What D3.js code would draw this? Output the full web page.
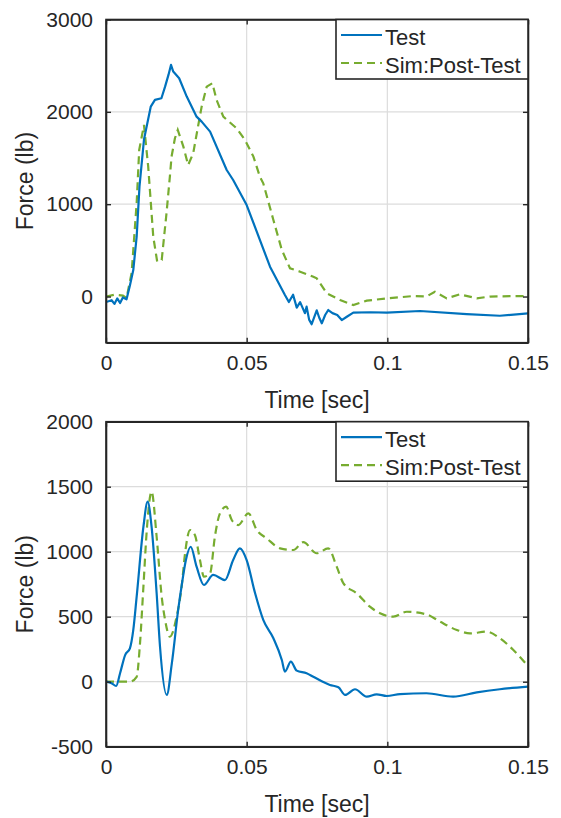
<!DOCTYPE html>
<html>
<head>
<meta charset="utf-8">
<script src="https://cdn.jsdelivr.net/npm/d3@7"></script>
<style>
  html, body { margin: 0; padding: 0; background: #fff; }
  svg { display: block; }
  text { font-family: "Liberation Sans", Arial, sans-serif; fill: #262626; }
</style>
</head>
<body>
<svg id="chart" width="561" height="818"></svg>
<script>
// ---------- Data ----------
const xTicks = [0, 0.05, 0.1, 0.15];
const xTickLabels = ["0", "0.05", "0.1", "0.15"];
const topYTicks = [0, 1000, 2000, 3000];
const topYTickLabels = ["0", "1000", "2000", "3000"];
const bottomYTicks = [-500, 0, 500, 1000, 1500, 2000];
const bottomYTickLabels = ["-500", "0", "500", "1000", "1500", "2000"];
const seriesNames = ["Test", "Sim:Post-Test"];

// Top panel — Test
const topTestT = [0, 0.002, 0.003, 0.004, 0.005, 0.006, 0.0073, 0.0085, 0.0097, 0.0109, 0.0119, 0.0135, 0.0159, 0.0174, 0.0197, 0.021, 0.0222, 0.0231, 0.0239, 0.026, 0.0287, 0.0322, 0.034, 0.037, 0.0429, 0.0452, 0.05, 0.0583, 0.0636, 0.065, 0.0665, 0.0678, 0.069, 0.0707, 0.0713, 0.0722, 0.0731, 0.0749, 0.0758, 0.0767, 0.0779, 0.079, 0.0805, 0.0822, 0.0838, 0.0856, 0.0879, 0.094, 0.0998, 0.1116, 0.1282, 0.14, 0.15];
const topTestF = [-60, -40, -80, -20, -70, -10, -30, 120, 287, 648, 1190, 1700, 2056, 2129, 2147, 2273, 2400, 2508, 2436, 2364, 2165, 1948, 1894, 1786, 1370, 1262, 991, 323, 16, -60, 20, -120, -60, -180, -110, -250, -300, -150, -230, -290, -200, -146, -180, -200, -255, -219, -175, -170, -175, -157, -190, -208, -182];

// Top panel — Sim:Post-Test
const topSimT = [0, 0.003, 0.006, 0.0073, 0.0091, 0.0097, 0.0109, 0.0118, 0.0135, 0.015, 0.0156, 0.0168, 0.0182, 0.0198, 0.0215, 0.0227, 0.0233, 0.0245, 0.0255, 0.0275, 0.0292, 0.031, 0.0327, 0.034, 0.0358, 0.0378, 0.0393, 0.0417, 0.0464, 0.0494, 0.0524, 0.0547, 0.0559, 0.0595, 0.0625, 0.0654, 0.069, 0.0737, 0.0749, 0.0785, 0.0832, 0.0879, 0.0927, 0.0998, 0.1092, 0.1139, 0.1169, 0.1211, 0.1258, 0.1318, 0.1365, 0.1448, 0.15];
const topSimF = [0, 20, 10, -16, 254, 504, 1013, 1587, 1858, 1406, 1154, 648, 377, 395, 901, 1298, 1515, 1714, 1804, 1623, 1425, 1551, 1840, 2056, 2273, 2310, 2129, 1948, 1822, 1696, 1515, 1298, 1226, 829, 504, 306, 269, 215, 197, 35, -38, -92, -45, -20, 5, 0, 52, -20, 24, -20, 0, 5, 5];

// Bottom panel — Test
const botTestT = [0, 0.002, 0.0036, 0.005, 0.0068, 0.0085, 0.0097, 0.0109, 0.0133, 0.0148, 0.0162, 0.018, 0.0192, 0.0216, 0.0234, 0.0257, 0.0269, 0.0284, 0.0301, 0.0322, 0.0348, 0.0381, 0.0423, 0.0452, 0.0476, 0.05, 0.053, 0.0559, 0.0595, 0.0625, 0.0636, 0.0657, 0.0678, 0.0713, 0.0737, 0.0796, 0.0826, 0.085, 0.0885, 0.0927, 0.0962, 0.0998, 0.1045, 0.1139, 0.1234, 0.1318, 0.14, 0.15];
const botTestF = [0, -12, -33, 65, 205, 257, 398, 654, 1192, 1385, 1192, 680, 269, -102, 141, 560, 740, 936, 1038, 885, 744, 821, 782, 936, 1026, 936, 680, 475, 334, 167, 77, 154, 85, 65, 38, -25, -43, -102, -58, -115, -97, -110, -95, -89, -115, -82, -58, -38];

// Bottom panel — Sim:Post-Test
const botSimT = [0, 0.0085, 0.0109, 0.012, 0.0133, 0.0145, 0.0162, 0.018, 0.0198, 0.021, 0.0227, 0.0251, 0.0269, 0.0281, 0.0299, 0.0316, 0.0334, 0.0348, 0.037, 0.0387, 0.0405, 0.0427, 0.0447, 0.047, 0.0506, 0.0536, 0.0571, 0.0619, 0.0666, 0.0701, 0.0749, 0.079, 0.082, 0.0844, 0.0891, 0.0938, 0.0974, 0.1021, 0.1069, 0.1139, 0.1187, 0.1247, 0.1294, 0.1353, 0.14, 0.1448, 0.15];
const botSimF = [0, 0, 38, 269, 731, 1167, 1462, 1115, 654, 475, 346, 500, 733, 988, 1167, 1128, 936, 808, 834, 1115, 1295, 1346, 1244, 1205, 1295, 1167, 1103, 1026, 1013, 1073, 988, 1026, 885, 757, 680, 577, 526, 500, 538, 518, 462, 398, 372, 385, 334, 244, 120];

// ---------- Styles ----------
const AX = "#262626", GRID = "#dcdcdc";
const BLUE = "#0072BD", GREEN = "#77AC30";
const TICK_FS = 21, LABEL_FS = 23, LEG_FS = 22;

const svg = d3.select("#chart");

function panel(cfg) {
  const { left, right, top, bottom, yDomain, yTicks, yLabels, test, sim, curve, legend, id } = cfg;
  const x = d3.scaleLinear().domain([0, 0.15]).range([left, right]);
  const y = d3.scaleLinear().domain(yDomain).range([bottom, top]);
  const g = svg.append("g");

  g.append("clipPath").attr("id", id).append("rect")
    .attr("x", left).attr("y", top).attr("width", right - left).attr("height", bottom - top);

  // grid
  g.selectAll(null).data(xTicks.slice(1, -1)).enter().append("line")
    .attr("x1", d => x(d)).attr("x2", d => x(d)).attr("y1", top).attr("y2", bottom)
    .attr("stroke", GRID).attr("stroke-width", 1.2);
  g.selectAll(null).data(yTicks.slice(1, -1)).enter().append("line")
    .attr("y1", d => y(d)).attr("y2", d => y(d)).attr("x1", left).attr("x2", right)
    .attr("stroke", GRID).attr("stroke-width", 1.2);

  // lines
  const line = d3.line().x(d => x(d[0])).y(d => y(d[1])).curve(curve);
  const plot = g.append("g").attr("clip-path", `url(#${id})`);
  plot.append("path").datum(d3.zip(sim[0], sim[1])).attr("d", line)
    .attr("fill", "none").attr("stroke", GREEN).attr("stroke-width", 2.2)
    .attr("stroke-dasharray", "8,5");
  plot.append("path").datum(d3.zip(test[0], test[1])).attr("d", line)
    .attr("fill", "none").attr("stroke", BLUE).attr("stroke-width", 2.2)
    .attr("stroke-linejoin", "round");

  // axes (MATLAB box with inward ticks on all sides)
  const tl = 5;
  const bAx = d3.axisBottom(x).tickValues(xTicks).tickFormat((d, i) => xTickLabels[i]).tickSizeInner(-tl).tickSizeOuter(0).tickPadding(12);
  const gb = g.append("g").attr("transform", `translate(0,${bottom})`).call(bAx);
  const tAx = d3.axisTop(x).tickValues(xTicks).tickFormat("").tickSizeInner(-tl).tickSizeOuter(0);
  const gt = g.append("g").attr("transform", `translate(0,${top})`).call(tAx);
  const lAx = d3.axisLeft(y).tickValues(yTicks).tickFormat((d, i) => yLabels[i]).tickSizeInner(-tl).tickSizeOuter(0).tickPadding(13);
  const gl = g.append("g").attr("transform", `translate(${left},0)`).call(lAx);
  const rAx = d3.axisRight(y).tickValues(yTicks).tickFormat("").tickSizeInner(-tl).tickSizeOuter(0);
  const gr = g.append("g").attr("transform", `translate(${right},0)`).call(rAx);
  [gb, gt, gl, gr].forEach(a => {
    a.select(".domain").attr("stroke", AX).attr("stroke-width", 1.6);
    a.selectAll(".tick line").attr("stroke", AX).attr("stroke-width", 1.4);
    a.selectAll("text").attr("fill", AX).style("font-size", TICK_FS + "px")
      .style("font-family", '"Liberation Sans", Arial, sans-serif');
  });
  gb.selectAll(".tick text").attr("dy", "0.71em");

  // box outline
  g.append("rect").attr("x", left).attr("y", top).attr("width", right - left).attr("height", bottom - top)
    .attr("fill", "none").attr("stroke", AX).attr("stroke-width", 1.6);

  // labels
  g.append("text").attr("x", (left + right) / 2).attr("y", bottom + 65)
    .attr("text-anchor", "middle").style("font-size", LABEL_FS + "px").text("Time [sec]");
  g.append("text").attr("transform", `translate(33,${(top + bottom) / 2}) rotate(-90)`)
    .attr("text-anchor", "middle").style("font-size", LABEL_FS + "px").text("Force (lb)");

  // legend
  const lg = g.append("g");
  lg.append("rect").attr("x", legend.x).attr("y", legend.y).attr("width", right - legend.x).attr("height", legend.h)
    .attr("fill", "#fff").attr("stroke", AX).attr("stroke-width", 1.6);
  const rows = [
    { name: seriesNames[0], color: BLUE, dash: null },
    { name: seriesNames[1], color: GREEN, dash: "8,5" }
  ];
  rows.forEach((r, i) => {
    const cy = legend.y + 15.5 + i * 28;
    lg.append("line").attr("x1", legend.x + 5).attr("x2", legend.x + 46).attr("y1", cy).attr("y2", cy)
      .attr("stroke", r.color).attr("stroke-width", 2.2).attr("stroke-dasharray", r.dash);
    lg.append("text").attr("x", legend.x + 49).attr("y", cy + 9.5)
      .style("font-size", LEG_FS + "px").text(r.name);
  });
}

panel({
  id: "clipTop", left: 106, right: 528, top: 19.5, bottom: 342.7,
  yDomain: [-500, 3000], yTicks: topYTicks, yLabels: topYTickLabels,
  test: [topTestT, topTestF], sim: [topSimT, topSimF], curve: d3.curveLinear,
  legend: { x: 336, y: 19.5, h: 59.5 }
});
panel({
  id: "clipBot", left: 106, right: 528, top: 421.7, bottom: 746.7,
  yDomain: [-500, 2000], yTicks: bottomYTicks, yLabels: bottomYTickLabels,
  test: [botTestT, botTestF], sim: [botSimT, botSimF], curve: d3.curveMonotoneX,
  legend: { x: 336, y: 421.7, h: 59.5 }
});
</script>
</body>
</html>
